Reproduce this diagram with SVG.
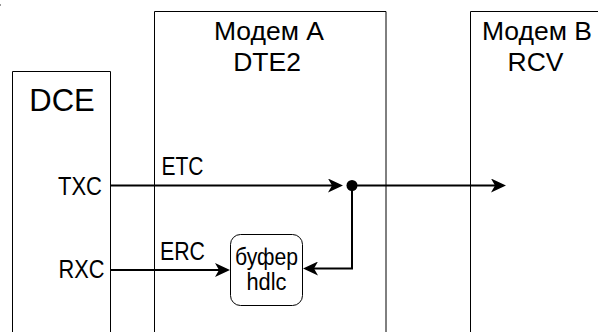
<svg xmlns="http://www.w3.org/2000/svg" width="598" height="332" viewBox="0 0 598 332">
  <style>
    .frame { fill: none; stroke: #000; stroke-width: 1; }
    .wire { fill: none; stroke: #000; stroke-width: 2; }
    .lbl { font-family: "Liberation Sans", Arial, sans-serif; fill: #000; }
  </style>
  <defs>
    <marker id="arrow" viewBox="0 0 15 14" refX="4" refY="7" markerWidth="15" markerHeight="14" markerUnits="userSpaceOnUse" orient="auto">
      <path d="M0,0 L15,7 L0,14 L4,7 Z" fill="#000"/>
    </marker>
  </defs>
  <rect width="598" height="332" fill="#fff"/>
  <line x1="0.5" y1="4" x2="0.5" y2="6" stroke="#999" stroke-width="1"/>

  <g id="dce">
    <path class="frame" d="M12.5,340 V71.5 H110.5 V340"/>
    <text class="lbl" x="62" y="111" font-size="31" text-anchor="middle">DCE</text>
    <text class="lbl" x="102" y="195" font-size="26" text-anchor="end" textLength="44" lengthAdjust="spacingAndGlyphs">TXC</text>
    <text class="lbl" x="104.5" y="278" font-size="26" text-anchor="end" textLength="46" lengthAdjust="spacingAndGlyphs">RXC</text>
  </g>

  <g id="modem-a">
    <path class="frame" d="M154.5,340 V11.5 H386 V340"/>
    <text class="lbl" x="269" y="39.5" font-size="26.5" text-anchor="middle">Модем А</text>
    <text class="lbl" x="267" y="71" font-size="26.5" text-anchor="middle">DTE2</text>
    <text class="lbl" x="161.5" y="175" font-size="26" textLength="42" lengthAdjust="spacingAndGlyphs">ETC</text>
    <text class="lbl" x="160" y="260" font-size="26" textLength="45" lengthAdjust="spacingAndGlyphs">ERC</text>
  </g>

  <g id="modem-b">
    <path class="frame" d="M470.5,340 V11.5 H610"/>
    <text class="lbl" x="537" y="39.5" font-size="26.5" text-anchor="middle">Модем B</text>
    <text class="lbl" x="535.5" y="71" font-size="26.5" text-anchor="middle">RCV</text>
  </g>

  <g id="buffer">
    <rect class="frame" x="230.5" y="234.5" width="72" height="71" rx="10" ry="10"/>
    <text class="lbl" x="266.5" y="265" font-size="23" text-anchor="middle" textLength="63" lengthAdjust="spacingAndGlyphs">буфер</text>
    <text class="lbl" x="266.5" y="289.5" font-size="23" text-anchor="middle" textLength="40" lengthAdjust="spacingAndGlyphs">hdlc</text>
  </g>

  <g id="connectors">
    <line class="wire" x1="110.5" y1="185.5" x2="332" y2="185.5" marker-end="url(#arrow)"/>
    <line class="wire" x1="352" y1="185.5" x2="495" y2="185.5" marker-end="url(#arrow)"/>
    <path class="wire" d="M352,185.5 V268.5 H314" marker-end="url(#arrow)"/>
    <line class="wire" x1="110.5" y1="270" x2="219" y2="270" marker-end="url(#arrow)"/>
    <circle cx="352" cy="185.5" r="5.5" fill="#000"/>
  </g>
</svg>
